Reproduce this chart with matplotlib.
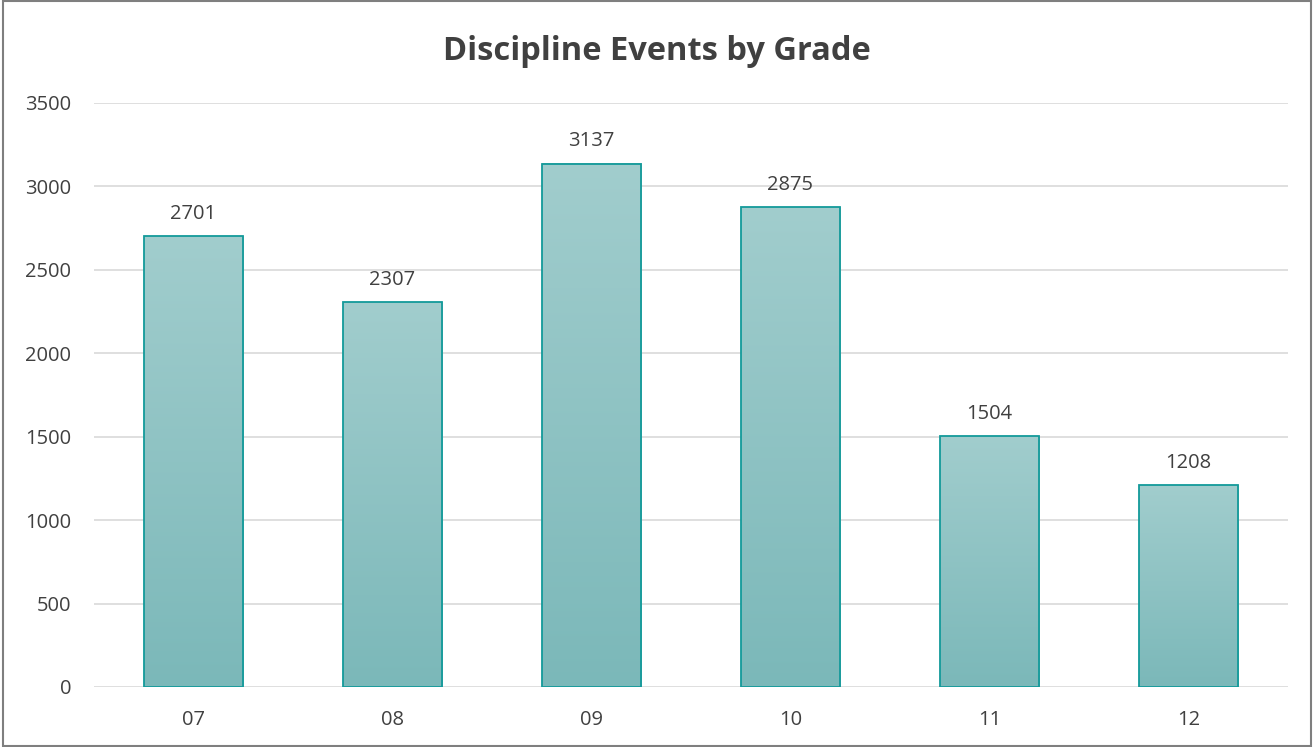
import numpy as np
import matplotlib
matplotlib.use("Agg")
import matplotlib.pyplot as plt
from matplotlib.patches import Rectangle
from matplotlib.colors import LinearSegmentedColormap

grades = ["07", "08", "09", "10", "11", "12"]
events = [2701, 2307, 3137, 2875, 1504, 1208]
yticks = [0, 500, 1000, 1500, 2000, 2500, 3000, 3500]

plt.rcParams['font.family'] = ['Open Sans', 'DejaVu Sans']

fig = plt.figure(figsize=(13.14, 7.47), dpi=100)
ax = fig.add_axes([94/1314, 1-687/747, 1194/1314, (687-103)/747])

x = np.arange(len(grades))
bars = ax.bar(x, events, width=0.5, facecolor='none', edgecolor='#139A9A', linewidth=1.3, zorder=3)

cmap = LinearSegmentedColormap.from_list('g', ['#7BB8B9', '#A1CDCD'])
grad = np.linspace(0, 1, 256).reshape(-1, 1)
for b in bars:
    x0, w, h = b.get_x(), b.get_width(), b.get_height()
    ax.imshow(grad, extent=(x0, x0 + w, 0, h), origin='lower', cmap=cmap,
              aspect='auto', zorder=2, interpolation='bicubic')
    ax.annotate(f"{int(h)}", (x0 + w/2, h), xytext=(0, 9), textcoords='offset points',
                ha='center', va='bottom', fontsize=14.5, color='#404040', zorder=4)

ax.set_xlim(-0.5, len(grades) - 0.5)
ax.set_ylim(0, 3500)
ax.set_xticks(x)
ax.set_xticklabels(grades)
ax.set_yticks(yticks)
ax.tick_params(axis='both', length=0, labelsize=14.5, labelcolor='#404040')
ax.tick_params(axis='x', pad=16.5)
ax.tick_params(axis='y', pad=16.5)
ax.grid(axis='y', color='#D9D9D9', linewidth=1.2, zorder=0)
ax.set_axisbelow(True)
for s in ax.spines.values():
    s.set_visible(False)

fig.text(0.5, 1 - 52/747, "Discipline Events by Grade", ha='center', va='center',
         fontsize=23.5, fontweight='bold', color='#404040')

fig.add_artist(Rectangle((0.002, 0.002), 0.996, 0.996, transform=fig.transFigure,
                         fill=False, edgecolor='#7F7F7F', linewidth=1.5))

fig.savefig('out.png', dpi=100)
